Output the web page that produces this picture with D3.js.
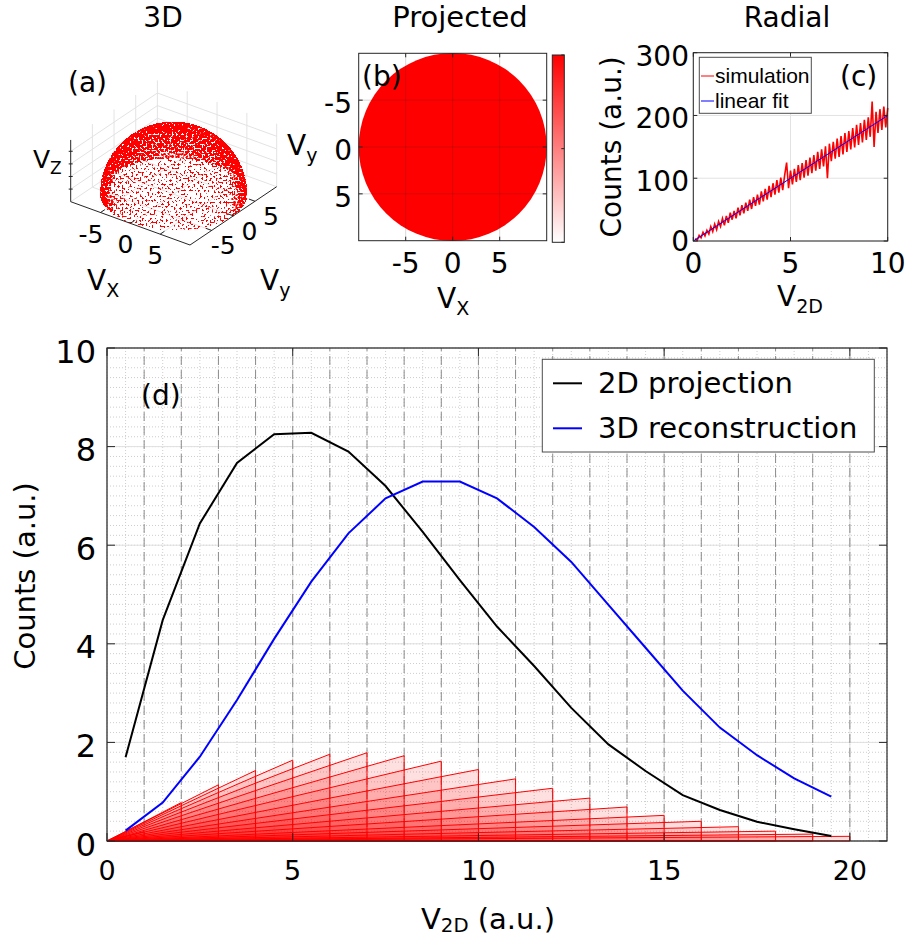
<!DOCTYPE html>
<html>
<head>
<meta charset="utf-8">
<script src="https://cdn.jsdelivr.net/npm/d3@7"></script>
<style>
  html, body { margin: 0; padding: 0; background: #fff; }
  svg { display: block; }
</style>
</head>
<body>
<svg id="fig" width="909" height="939"></svg>
<script>
// ---------- data ----------
// (d) bin centres and the two speed distributions
const binCenters = [0.5, 1.5, 2.5, 3.5, 4.5, 5.5, 6.5, 7.5, 8.5, 9.5,
                    10.5, 11.5, 12.5, 13.5, 14.5, 15.5, 16.5, 17.5, 18.5, 19.5];
const proj2D = [1.70, 4.48, 6.44, 7.67, 8.25, 8.28, 7.90, 7.20, 6.27, 5.29,
                4.35, 3.55, 2.70, 1.96, 1.42, 0.93, 0.63, 0.39, 0.24, 0.10];
const recon3D = [0.21, 0.78, 1.71, 2.86, 4.10, 5.26, 6.24, 6.95, 7.29, 7.29,
                 6.95, 6.37, 5.66, 4.79, 3.92, 3.05, 2.30, 1.74, 1.27, 0.90];
// (d) one linear shell contribution per bin edge
const shellEdges = [1, 2, 3, 4, 5, 6, 7, 8, 9, 10, 11, 12, 13, 14, 15, 16, 17, 18, 19, 20];
const shellHeights = [0.19, 0.78, 1.14, 1.43, 1.64, 1.76, 1.79, 1.73, 1.62, 1.45,
                      1.26, 1.07, 0.87, 0.69, 0.52, 0.40, 0.29, 0.20, 0.14, 0.095];
const legendD = ["2D projection", "3D reconstruction"];

// (c) radial histogram of the projected shell + linear fit
const radialX = [0.1, 0.2, 0.3, 0.4, 0.5, 0.6, 0.7, 0.8, 0.9, 1.0,
  1.1, 1.2, 1.3, 1.4, 1.5, 1.6, 1.7, 1.8, 1.9, 2.0,
  2.1, 2.2, 2.3, 2.4, 2.5, 2.6, 2.7, 2.8, 2.9, 3.0,
  3.1, 3.2, 3.3, 3.4, 3.5, 3.6, 3.7, 3.8, 3.9, 4.0,
  4.1, 4.2, 4.3, 4.4, 4.5, 4.6, 4.7, 4.8, 4.9, 5.0,
  5.1, 5.2, 5.3, 5.4, 5.5, 5.6, 5.7, 5.8, 5.9, 6.0,
  6.1, 6.2, 6.3, 6.4, 6.5, 6.6, 6.7, 6.8, 6.9, 7.0,
  7.1, 7.2, 7.3, 7.4, 7.5, 7.6, 7.7, 7.8, 7.9, 8.0,
  8.1, 8.2, 8.3, 8.4, 8.5, 8.6, 8.7, 8.8, 8.9, 9.0,
  9.1, 9.2, 9.3, 9.4, 9.5, 9.6, 9.7, 9.8, 9.9, 10.0];
const radialCounts = [4, 1, 9, 5, 14, 8, 17, 11, 23, 15,
  27, 18, 31, 23, 36, 25, 40, 29, 45, 34,
  48, 36, 53, 41, 57, 44, 61, 48, 66, 51,
  70, 56, 74, 58, 79, 63, 83, 66, 88, 70,
  92, 74, 97, 77, 101, 81, 105, 125, 84, 112,
  90, 115, 94, 121, 97, 124, 101, 129, 104, 133,
  108, 137, 112, 142, 115, 146, 119, 151, 100, 155,
  127, 158, 131, 163, 134, 167, 138, 172, 142, 175,
  146, 180, 149, 185, 153, 188, 157, 193, 161, 197,
  166, 222, 150, 206, 172, 210, 177, 214, 181, 212];
const fitX = [0, 10];
const fitY = [0, 200];
const legendC = ["simulation", "linear fit"];

// (a)/(b) shell radius and the mesh used to shade the dome
const shellRadius = 10;
const domeLat = [0, 5, 10, 15, 20, 25, 30, 35, 40, 45, 50, 55, 60, 65, 70, 75, 80, 85, 90];
const domeLon = [0, 10, 20, 30, 40, 50, 60, 70, 80, 90, 100, 110, 120, 130, 140, 150, 160, 170, 180,
                 190, 200, 210, 220, 230, 240, 250, 260, 270, 280, 290, 300, 310, 320, 330, 340, 350, 360];
const tick3D = [-5, 0, 5];
const tickZ = [2, 4, 6, 8];
const tickB = [-5, 0, 5];

// ---------- helpers ----------
const svg = d3.select("#fig");
const AX = "#262626";
const SANS = "DejaVu Sans";
const ARIAL = "Liberation Sans";

function label(g, x, y, str, size, anchor = "start", family = SANS) {
  return g.append("text")
    .attr("x", x).attr("y", y)
    .attr("font-family", family)
    .attr("font-size", size)
    .attr("text-anchor", anchor)
    .attr("fill", "#000")
    .text(str);
}

// "V" with a subscript, optionally followed by more text on the main baseline
function subLabel(g, x, y, main, sub, size, rest, shift = 0.24) {
  const t = g.append("text")
    .attr("x", x).attr("y", y)
    .attr("font-family", SANS)
    .attr("font-size", size)
    .attr("fill", "#000");
  t.append("tspan").text(main);
  t.append("tspan").attr("dy", size * shift).attr("font-size", size * 0.68).text(sub);
  if (rest) t.append("tspan").attr("dy", -size * shift).text(rest);
  return t;
}

function line(g, x1, y1, x2, y2, color, width = 1) {
  return g.append("line")
    .attr("x1", x1).attr("y1", y1).attr("x2", x2).attr("y2", y2)
    .attr("stroke", color).attr("stroke-width", width);
}

const defs = svg.append("defs");

// speckle filter: turns the shaded alpha of the dome into scattered red dots
const filt = defs.append("filter").attr("id", "speckle")
  .attr("x", 0).attr("y", 0).attr("width", 1).attr("height", 1)
  .attr("color-interpolation-filters", "sRGB");
filt.append("feTurbulence").attr("type", "fractalNoise")
  .attr("baseFrequency", 0.5).attr("numOctaves", 1).attr("seed", 7).attr("result", "noise");
filt.append("feColorMatrix").attr("in", "noise").attr("type", "matrix")
  .attr("values", "0 0 0 0 0  0 0 0 0 0  0 0 0 0 0  2.4 0 0 0 -0.7").attr("result", "na");
filt.append("feComposite").attr("in", "SourceAlpha").attr("in2", "na")
  .attr("operator", "arithmetic").attr("k1", 0).attr("k2", 1).attr("k3", -1).attr("k4", 0)
  .attr("result", "diff");
const ct = filt.append("feComponentTransfer").attr("in", "diff").attr("result", "mask");
ct.append("feFuncA").attr("type", "discrete")
  .attr("tableValues", "0 0.6 1 1 1 1 1 1 1 1 1 1 1 1 1 1 1 1 1 1");
filt.append("feColorMatrix").attr("in", "mask").attr("type", "matrix")
  .attr("values", "0 0 0 0 1  0 0 0 0 0  0 0 0 0 0  0 0 0 1 0");

const grad = defs.append("linearGradient").attr("id", "cbar")
  .attr("x1", 0).attr("y1", 1).attr("x2", 0).attr("y2", 0);
grad.append("stop").attr("offset", 0).attr("stop-color", "#ffffff");
grad.append("stop").attr("offset", 1).attr("stop-color", "#ff0000");

// ---------- (a) 3D hemisphere ----------
function drawPanelA() {
  const g = svg.append("g");
  const corner = [70.7, 201.7];
  const edgeX = [119.3, 43.3], edgeY = [86.7, -58.3], edgeZ = [0, -63];
  const sx = d3.scaleLinear().domain([-10, 10]).range([0, 1]);
  const sy = d3.scaleLinear().domain([-10, 10]).range([0, 1]);
  const sz = d3.scaleLinear().domain([0, 10]).range([0, 1]);
  const P = (vx, vy, vz) => {
    const u = sx(vx), v = sy(vy), w = sz(vz);
    return [corner[0] + u * edgeX[0] + v * edgeY[0] + w * edgeZ[0],
            corner[1] + u * edgeX[1] + v * edgeY[1] + w * edgeZ[1]];
  };
  const seg = (a, b, color, w) => line(g, a[0], a[1], b[0], b[1], color, w);
  const gridCol = "#e3e3e3";

  // back walls and floor grid
  tick3D.forEach(t => {
    seg(P(-10, t, 0), P(-10, t, 10), gridCol);
    seg(P(t, 10, 0), P(t, 10, 10), gridCol);
    seg(P(t, -10, 0), P(t, 10, 0), gridCol);
    seg(P(-10, t, 0), P(10, t, 0), gridCol);
  });
  seg(P(-10, 10, 0), P(-10, 10, 10), gridCol);
  seg(P(10, 10, 0), P(10, 10, 10), gridCol);
  [0].concat(tickZ).forEach(z => {
    seg(P(-10, -10, z), P(-10, 10, z), gridCol);
    seg(P(-10, 10, z), P(10, 10, z), gridCol);
  });

  // dome shading: point density on screen ~ true area / projected area
  const rad = Math.PI / 180, R = shellRadius;
  const sph = (la, lo) => P(R * Math.cos(la) * Math.cos(lo), R * Math.cos(la) * Math.sin(lo), R * Math.sin(la));
  const cells = [];
  for (let i = 0; i < domeLat.length - 1; i++) {
    for (let j = 0; j < domeLon.length - 1; j++) {
      const la0 = domeLat[i] * rad, la1 = domeLat[i + 1] * rad;
      const lo0 = domeLon[j] * rad, lo1 = domeLon[j + 1] * rad;
      const pts = [sph(la0, lo0), sph(la0, lo1), sph(la1, lo1), sph(la1, lo0)];
      const area = (Math.sin(la1) - Math.sin(la0)) * (lo1 - lo0);
      const proj = Math.abs(d3.polygonArea(pts)) + 1e-6;
      cells.push({ pts, ratio: area / proj });
    }
  }
  const minRatio = d3.min(cells, c => c.ratio);
  g.append("g").attr("filter", "url(#speckle)")
    .selectAll("path").data(cells).join("path")
    .attr("d", c => "M" + c.pts.join("L") + "Z")
    .attr("fill", "#ff0000")
    .attr("fill-opacity", c => Math.min(1, 0.3 * c.ratio / minRatio))
    .attr("shape-rendering", "crispEdges");

  // axes
  seg(P(-10, -10, 0), P(10, -10, 0), AX);
  seg(P(10, -10, 0), P(10, 10, 0), AX);
  seg(P(-10, -10, 0), P(-10, -10, 9.8), AX);
  tick3D.forEach(t => {
    seg(P(t, -10, 0), P(t, -9, 0), AX);
    seg(P(10, t, 0), P(9, t, 0), AX);
    const a = P(t, -10, 0), b = P(10, t, 0);
    label(g, a[0] + 3, a[1] + 30, String(t), 25, "end");
    label(g, b[0] + 24, b[1] + 24, String(t), 25, "end");
  });
  tickZ.forEach(z => {
    const a = P(-10, -10, z);
    line(g, a[0] - 2, a[1], a[0] + 2, a[1], AX);
  });

  subLabel(g, 33, 168, "V", "Z", 25);
  subLabel(g, 87, 290, "V", "X", 28);
  subLabel(g, 260, 290, "V", "y", 28);
  label(g, 163, 27, "3D", 28, "middle");
  label(g, 68, 92, "(a)", 28);
}

// ---------- (b) projected image ----------
function drawPanelB() {
  const g = svg.append("g");
  const x = d3.scaleLinear().domain([-10, 10]).range([358.7, 546.7]);
  const y = d3.scaleLinear().domain([-10, 10]).range([53.3, 240.7]);

  g.append("circle")
    .attr("cx", x(0)).attr("cy", y(0))
    .attr("r", x(shellRadius) - x(0))
    .attr("fill", "#ff0000");

  tickB.forEach(t => {
    line(g, x(t), y(-10), x(t), y(10), AX).attr("stroke-opacity", 0.18);
    line(g, x(-10), y(t), x(10), y(t), AX).attr("stroke-opacity", 0.18);
    line(g, x(t), y(10), x(t), y(10) - 4, AX);
    line(g, x(t), y(-10), x(t), y(-10) + 4, AX);
    line(g, x(-10), y(t), x(-10) + 4, y(t), AX);
    line(g, x(10), y(t), x(10) - 4, y(t), AX);
    label(g, x(t), 273, String(t), 28, "middle");
    label(g, 352, y(t) + 13, String(t), 28, "end");
  });
  g.append("rect")
    .attr("x", x(-10)).attr("y", y(-10))
    .attr("width", x(10) - x(-10)).attr("height", y(10) - y(-10))
    .attr("fill", "none").attr("stroke", AX);

  // colour bar
  const cb = d3.scaleLinear().domain([0, 1]).range([242.3, 55]);
  g.append("rect")
    .attr("x", 552.3).attr("y", cb(1))
    .attr("width", 12).attr("height", cb(0) - cb(1))
    .attr("fill", "url(#cbar)").attr("stroke", AX);
  cb.ticks(2).forEach(t => line(g, 564.3, cb(t), 561.3, cb(t), AX));

  subLabel(g, 287, 155, "V", "y", 28);
  subLabel(g, 437, 308, "V", "X", 28);
  label(g, 460, 27, "Projected", 29, "middle");
  label(g, 362, 86, "(b)", 28);
}

// ---------- (c) radial distribution ----------
function drawPanelC() {
  const g = svg.append("g");
  const x = d3.scaleLinear().domain([0, 10]).range([693.3, 887.7]);
  const y = d3.scaleLinear().domain([0, 300]).range([241, 52.7]);
  const [x0, x1] = x.range(), [y0, y1] = y.range();

  x.ticks(2).forEach(t => line(g, x(t), y0, x(t), y1, "#e2e2e2"));
  y.ticks(3).forEach(t => line(g, x0, y(t), x1, y(t), "#e2e2e2"));

  g.append("path")
    .datum(d3.zip(radialX, radialCounts))
    .attr("d", d3.line().x(d => x(d[0])).y(d => y(d[1])))
    .attr("fill", "none").attr("stroke", "#ff0000").attr("stroke-width", 1.6);
  g.append("path")
    .datum(d3.zip(fitX, fitY))
    .attr("d", d3.line().x(d => x(d[0])).y(d => y(d[1])))
    .attr("fill", "none").attr("stroke", "#0000ff").attr("stroke-width", 1);

  g.append("rect")
    .attr("x", x0).attr("y", y1).attr("width", x1 - x0).attr("height", y0 - y1)
    .attr("fill", "none").attr("stroke", AX);
  x.ticks(2).forEach(t => {
    line(g, x(t), y0, x(t), y0 - 4, AX);
    line(g, x(t), y1, x(t), y1 + 4, AX);
    label(g, x(t), 273, String(t), 28, "middle");
  });
  y.ticks(3).forEach(t => {
    line(g, x0, y(t), x0 + 4, y(t), AX);
    line(g, x1, y(t), x1 - 4, y(t), AX);
    label(g, 689, y(t) + (t === 0 ? 10 : 13), String(t), 28, "end");
  });

  // legend
  g.append("rect").attr("x", 699.3).attr("y", 57.3).attr("width", 112).attr("height", 56)
    .attr("fill", "#fff").attr("stroke", "#4d4d4d");
  const cols = ["#ff0000", "#0000ff"];
  legendC.forEach((name, i) => {
    const ly = 76 + i * 25;
    line(g, 701, ly, 714, ly, cols[i]);
    label(g, 715, ly + 7, name, 21, "start", ARIAL);
  });

  g.append("text")
    .attr("transform", `translate(621,${(y0 + y1) / 2}) rotate(-90)`)
    .attr("font-family", SANS).attr("font-size", 28)
    .attr("text-anchor", "middle").text("Counts (a.u.)");
  subLabel(g, 777, 306, "V", "2D", 28);
  label(g, 787, 27, "Radial", 28, "middle");
  label(g, 840, 86, "(c)", 28);
}

// ---------- (d) speed distributions ----------
function drawPanelD() {
  const g = svg.append("g");
  const x = d3.scaleLinear().domain([0, 21]).range([107, 887]);
  const y = d3.scaleLinear().domain([0, 10]).range([841, 348]);
  const [x0, x1] = x.range(), [y0, y1] = y.range();

  // minor dotted grid
  g.append("g").selectAll("line").data(x.ticks(42)).join("line")
    .attr("x1", d => x(d)).attr("x2", d => x(d)).attr("y1", y0).attr("y2", y1)
    .attr("stroke", "#cdcdcd").attr("stroke-dasharray", "1,2");
  g.append("g").selectAll("line").data(y.ticks(50)).join("line")
    .attr("x1", x0).attr("x2", x1).attr("y1", d => y(d)).attr("y2", d => y(d))
    .attr("stroke", "#cdcdcd").attr("stroke-dasharray", "1,2");
  // major grid
  x.ticks(5).forEach(t => line(g, x(t), y0, x(t), y1, "#e0e0e0"));
  y.ticks(5).forEach(t => line(g, x0, y(t), x1, y(t), "#e0e0e0"));
  // bin edges
  g.append("g").selectAll("line").data(shellEdges).join("line")
    .attr("x1", d => x(d)).attr("x2", d => x(d)).attr("y1", y0).attr("y2", y1)
    .attr("stroke", "#8c8c8c").attr("stroke-dasharray", "9,5");

  // linear shell contributions
  const tri = shellEdges.map((e, i) => [[0, 0], [e, shellHeights[i]], [e, 0]]);
  g.append("g").selectAll("path").data(tri).join("path")
    .attr("d", d => "M" + d.map(p => [x(p[0]), y(p[1])]).join("L") + "Z")
    .attr("fill", "#ff0000").attr("fill-opacity", 0.12)
    .attr("stroke", "#ff0000").attr("stroke-width", 1);

  const ln = d3.line().x(d => x(d[0])).y(d => y(d[1]));
  g.append("path").datum(d3.zip(binCenters, proj2D)).attr("d", ln)
    .attr("fill", "none").attr("stroke", "#000").attr("stroke-width", 2);
  g.append("path").datum(d3.zip(binCenters, recon3D)).attr("d", ln)
    .attr("fill", "none").attr("stroke", "#0000ff").attr("stroke-width", 2);

  // box + ticks
  g.append("rect")
    .attr("x", x0).attr("y", y1).attr("width", x1 - x0).attr("height", y0 - y1)
    .attr("fill", "none").attr("stroke", AX).attr("stroke-width", 1.2);
  x.ticks(5).forEach(t => {
    line(g, x(t), y0, x(t), y0 - 8, AX);
    line(g, x(t), y1, x(t), y1 + 8, AX);
    label(g, x(t), 880, String(t), 27, "middle");
  });
  y.ticks(5).forEach(t => {
    line(g, x0, y(t), x0 + 8, y(t), AX);
    line(g, x1, y(t), x1 - 8, y(t), AX);
    label(g, 96, y(t) + 14.5, String(t), 32, "end");
  });

  // legend
  g.append("rect").attr("x", 542.3).attr("y", 359.3).attr("width", 332).attr("height", 92.7)
    .attr("fill", "#fff").attr("stroke", "#4d4d4d");
  const cols = ["#000", "#0000ff"];
  legendD.forEach((name, i) => {
    const ly = 383.3 + i * 45;
    line(g, 553, ly, 582, ly, cols[i], 2);
    label(g, 598, ly + 10, name, 29);
  });

  g.append("text")
    .attr("transform", "translate(35,576) rotate(-90)")
    .attr("font-family", SANS).attr("font-size", 29)
    .attr("text-anchor", "middle").text("Counts (a.u.)");
  subLabel(g, 421, 929, "V", "2D", 29, " (a.u.)", 0.1);
  label(g, 141, 405, "(d)", 28);
}

drawPanelA();
drawPanelB();
drawPanelC();
drawPanelD();
</script>
</body>
</html>
